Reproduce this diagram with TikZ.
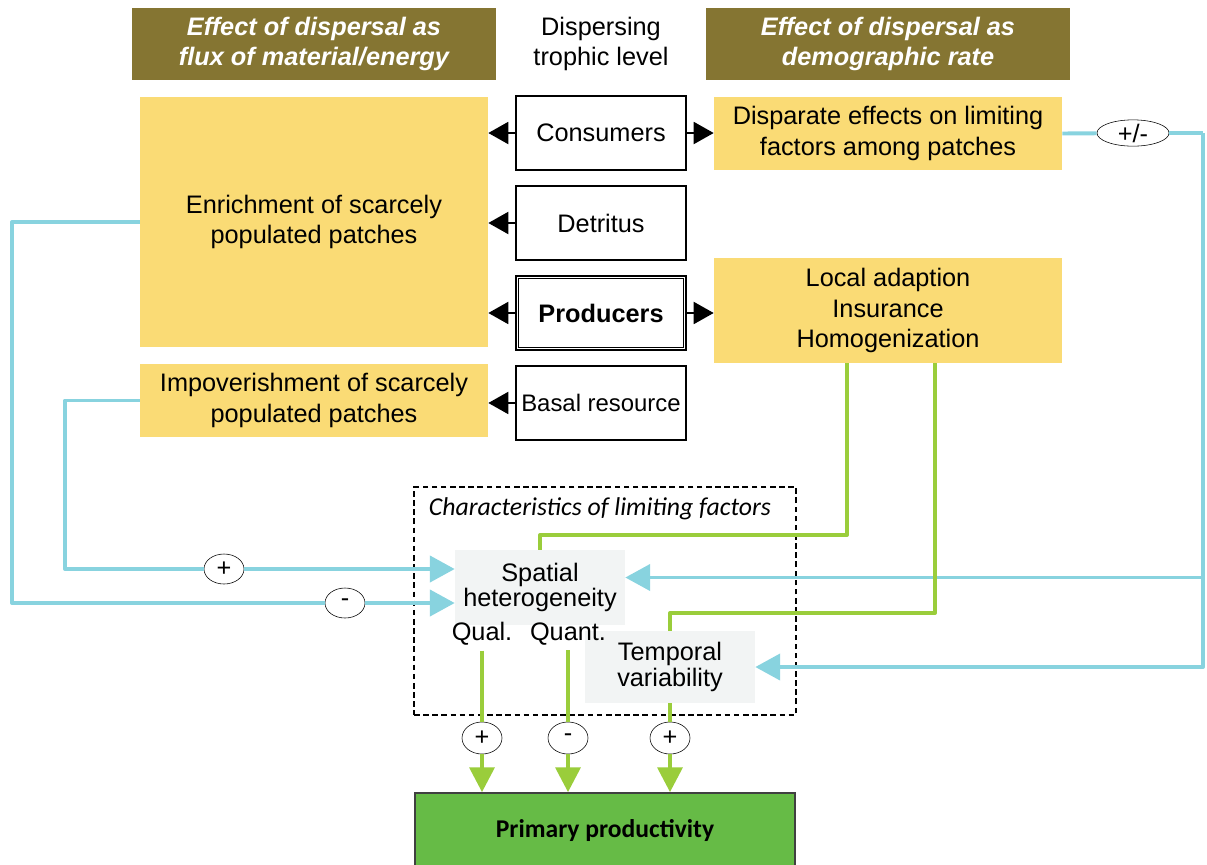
\documentclass[tikz,border=0pt]{standalone}
\usepackage{fontspec}
\setmainfont{Liberation Sans}
\newfontfamily\calibri{Carlito}
\usepackage{xcolor}
\usetikzlibrary{positioning, arrows.meta, shapes.geometric, calc}

\definecolor{headolive}{HTML}{857532}
\definecolor{effyellow}{HTML}{FADB75}
\definecolor{linkblue}{HTML}{88D3DF}
\definecolor{linkgreen}{HTML}{9ACD3B}
\definecolor{facgray}{HTML}{F2F4F4}
\definecolor{prodgreen}{HTML}{66BB46}
\newcommand{\mainsz}{\fontsize{18}{21.3}\selectfont}

\begin{document}
\begin{tikzpicture}[
  x=0.025cm, y=-0.025cm,
  node distance=0.35cm,
  head/.style={fill=headolive, text=white, minimum width=9.1cm, minimum height=1.8cm, align=center, font=\mainsz\bfseries\itshape},
  level/.style={draw, line width=1.4pt, inner xsep=1pt, minimum width=4.25cm, minimum height=1.85cm, align=center, font=\mainsz},
  eff/.style={fill=effyellow, minimum width=8.7cm, align=center, font=\fontsize{18}{22}\selectfont},
  fac/.style={fill=facgray, minimum width=4.25cm, align=center},
  sign/.style={draw, ellipse, fill=white, thin, inner sep=0pt, minimum width=1cm, minimum height=0.75cm, font=\fontsize{18}{18}\selectfont},
  blk/.style={-{Triangle[width=0.55cm, length=0.5cm]}, line width=1.4pt},
  bl/.style={draw=linkblue, line width=2.8pt, line join=round},
  bla/.style={bl, -{Triangle[width=0.65cm, length=0.62cm]}},
  gl/.style={draw=linkgreen, line width=2.8pt, line join=round},
  gla/.style={gl, -{Triangle[width=0.62cm, length=0.62cm]}}
]
  \useasboundingbox (0,0) rectangle (1207,864);

  % column headers
  \node[head] (hflux) at (314,44) {Effect of dispersal as\\flux of material/energy};
  \node[align=center, font=\mainsz] (hlevel) at (601,44) {Dispersing\\trophic level};
  \node[head] (hdemo) at (888,44) {Effect of dispersal as\\demographic rate};

  % trophic levels
  \node[level] (cons) at (601,133) {Consumers};
  \node[level, below=of cons] (detr) {Detritus};
  \node[level, below=of detr] (prod) {\textbf{Producers}};
  \draw[line width=0.6pt] ([shift={(2.4pt,-2.4pt)}]prod.north west) rectangle ([shift={(-2.4pt,2.4pt)}]prod.south east);
  \node[level, below=of prod, font=\fontsize{17}{20}\selectfont] (basal) {Basal resource};

  % effects
  \node[eff, minimum height=6.25cm, font=\fontsize{18}{21.3}\selectfont] (enr) at (314,222) {Enrichment of scarcely\\populated patches};
  \node[eff, minimum height=1.825cm] (impov) at (314,400.5) {Impoverishment of scarcely\\populated patches};
  \node[eff, minimum height=1.825cm] (disp) at (888,133.5) {Disparate effects on limiting\\factors among patches};
  \node[eff, minimum height=2.625cm] (loc) at (888,310.5) {Local adaption\\Insurance\\Homogenization};

  \draw[blk] (cons.west) -- (cons.west -| enr.east);
  \draw[blk] (cons.east) -- (cons.east -| disp.west);
  \draw[blk] (detr.west) -- (detr.west -| enr.east);
  \draw[blk] (prod.west) -- (prod.west -| enr.east);
  \draw[blk] (prod.east) -- (prod.east -| loc.west);
  \draw[blk] (basal.west) -- (basal.west -| impov.east);

  % limiting factors
  \node[draw, dashed, line width=1.4pt, dash pattern=on 4pt off 2.5pt, minimum width=9.55cm, minimum height=5.7cm] (chars) at (605,601) {};
  \node[anchor=west, font=\calibri\itshape\fontsize{18.3}{20}\selectfont] (charslbl) at (424,509) {Characteristics of limiting factors};
  \node[fac, minimum height=1.875cm, font=\fontsize{18}{18}\selectfont] (spat) at (540,587.5) {Spatial\\heterogeneity};
  \node[fac, minimum height=1.8cm, font=\fontsize{18}{19}\selectfont] (temp) at (670,667) {Temporal\\variability};
  \node[font=\mainsz] (qual) at (482,634) {Qual.};
  \node[font=\mainsz] (quant) at (568,634) {Quant.};

  \node[draw=darkgray, line width=1.2pt, fill=prodgreen, minimum width=9.5cm, minimum height=1.875cm, font=\calibri\bfseries\fontsize{18.2}{20}\selectfont] (pprod) at (605,830.5) {Primary productivity};

  % signs
  \coordinate (lx) at (12,603);
  \coordinate (mx) at (65,569);
  \coordinate (rx) at (1203,133);
  \coordinate (g1) at (540,535);
  \coordinate (g2) at (670,613);
  \node[sign] (sminus) at (345,603) {-};
  \node[sign] (splus) at (224,569) {+};
  \node[sign, minimum width=1.8cm, minimum height=0.65cm] (spm) at (1133,133) {+/-};
  \node[sign, minimum height=0.8cm] (sq1) at (482,738) {+};
  \node[sign, minimum height=0.8cm] (sq2) at (568,738) {-};
  \node[sign, minimum height=0.8cm] (sq3) at (670,738) {+};

  % blue links
  \draw[bl] (enr.west) -| (lx) -- (sminus);
  \draw[bla] (sminus) -- (sminus -| spat.west);
  \draw[bl] (impov.west) -| (mx) -- (splus);
  \draw[bla] (splus) -- (splus -| spat.west);
  \draw[bl] (disp.east) -- (spm);
  \draw[bl] (spm) -- (rx);
  \draw[bla] (rx) |- ([yshift=0.25cm]spat.east);
  \draw[bla] (rx) |- (temp.east);

  % green links
  \draw[gl] ([xshift=-1.025cm]loc.south) |- (g1) -- (spat.north);
  \draw[gl] ([xshift=1.175cm]loc.south) |- (g2) -- (temp.north);
  \draw[gl] (qual.south) -- (sq1);
  \draw[gla] (sq1) -- (sq1 |- pprod.north);
  \draw[gl] (quant.south) -- (sq2);
  \draw[gla] (sq2) -- (sq2 |- pprod.north);
  \draw[gl] (temp.south) -- (sq3);
  \draw[gla] (sq3) -- (sq3 |- pprod.north);
\end{tikzpicture}
\end{document}
